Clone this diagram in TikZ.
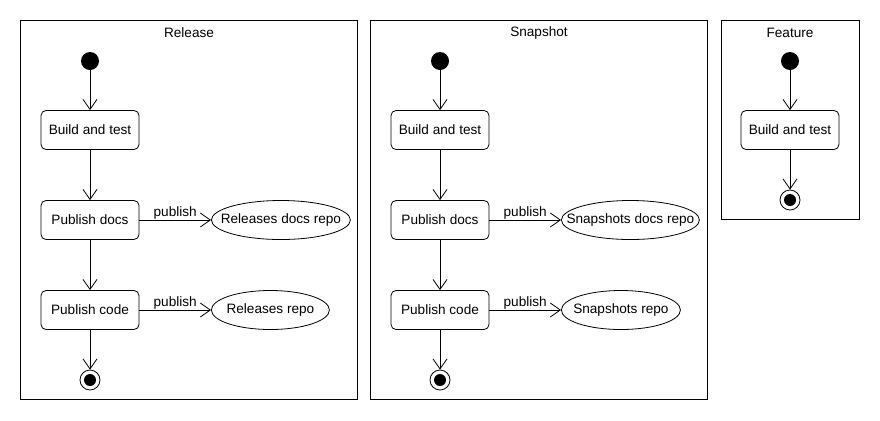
\documentclass[tikz,border=0pt]{standalone}
\usepackage{fontspec}
\setmainfont{Liberation Sans}
\usetikzlibrary{arrows.meta,shapes.geometric}

\begin{document}
\begin{tikzpicture}[x=1bp,y=-1bp,line width=0.8bp,
  font=\fontsize{13.6bp}{15bp}\selectfont,
  act/.style={draw,rounded corners=5bp,minimum width=98bp,minimum height=39bp,inner sep=0pt},
  repo/.style={draw,ellipse,minimum height=39bp,inner xsep=-20bp,inner ysep=0pt},
  start/.style={circle,fill=black,minimum size=18bp,inner sep=0pt},
  stop/.style={circle,draw,minimum size=20bp,inner sep=0pt,
    path picture={\fill (path picture bounding box.center) circle (6bp);}},
  flow/.style={-{Straight Barb[length=10bp,width=14bp]}},
  lbl/.style={midway,above,inner sep=0.5bp}]
\useasboundingbox (0,0) rectangle (880,420);

% Release and Snapshot lanes, same layout
\foreach \dx/\lane/\repos/\wdocs/\wcode in {0/Release/Releases/139/118, 350/Snapshot/Snapshots/138/119}{
\begin{scope}[xshift=\dx bp]
\draw (20,20) rectangle (357,399);
\node (\lane-title) at (189,33) {\lane};
\node[start] (\lane-start) at (90,61) {};
\node[act] (\lane-build) at (90,130) {Build and test};
\node[act] (\lane-docs) at (90,220) {Publish docs};
\node[act] (\lane-code) at (90,310) {Publish code};
\node[stop] (\lane-stop) at (90,380) {};
\node[repo,minimum width=\wdocs bp,anchor=west] (\lane-docsrepo) at (211,220) {\repos\ docs repo};
\node[repo,minimum width=\wcode bp,anchor=west] (\lane-coderepo) at (211,310) {\repos\ repo};
\draw[flow] (\lane-start) -- (\lane-build);
\draw[flow] (\lane-build) -- (\lane-docs);
\draw[flow] (\lane-docs) -- (\lane-code);
\draw[flow] (\lane-code) -- (\lane-stop);
\draw[flow] (\lane-docs) -- (\lane-docsrepo) node[lbl] {publish};
\draw[flow] (\lane-code) -- (\lane-coderepo) node[lbl] {publish};
\end{scope}
}

% Feature lane
\draw (721,20) rectangle (859,219);
\node (feat-title) at (790,33) {Feature};
\node[start] (feat-start) at (790,61) {};
\node[act] (feat-build) at (790,130) {Build and test};
\node[stop] (feat-stop) at (790,200) {};
\draw[flow] (feat-start) -- (feat-build);
\draw[flow] (feat-build) -- (feat-stop);
\end{tikzpicture}
\end{document}
